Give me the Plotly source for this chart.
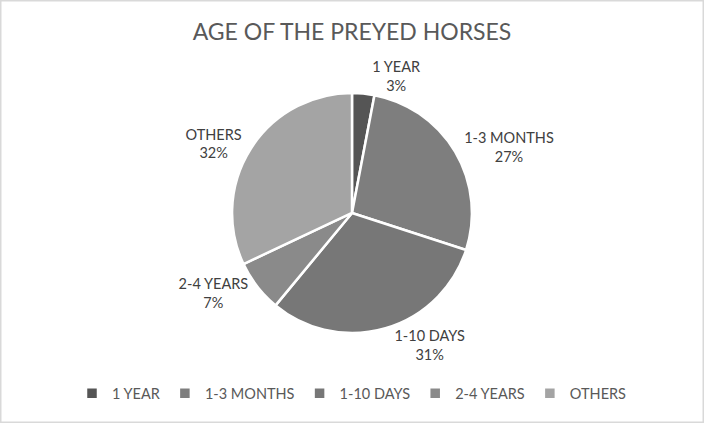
import plotly.graph_objs as go

# age groups of the preyed horses
categories = ['1 YEAR', '1-3 MONTHS', '1-10 DAYS', '2-4 YEARS', 'OTHERS']
shares = [3, 27, 31, 7, 32]
slice_colors = ['#555555', '#7e7e7e', '#777777', '#8a8a8a', '#a4a4a4']

pie = go.Pie(labels=categories,
             values=shares,
             sort=False,
             direction='clockwise',
             rotation=0,
             marker=dict(colors=slice_colors,
                         line=dict(color='white', width=2.5)),
             textposition='outside',
             texttemplate='%{label}<br>%{percent:.0%}',
             textfont=dict(family='Lato', size=14.5, color='#404040'),
             hoverinfo='label+percent',
             domain=dict(x=[0.1, 0.9], y=[0.213, 0.78]))

layout = go.Layout(title=dict(text='AGE OF THE PREYED HORSES',
                              x=0.5, xanchor='center',
                              y=0.925, yanchor='middle',
                              font=dict(family='Lato', size=23, color='#595959')),
                   width=704, height=423,
                   margin=dict(l=0, r=0, t=0, b=0, autoexpand=False),
                   paper_bgcolor='white',
                   showlegend=True,
                   legend=dict(orientation='h',
                               x=0.5, xanchor='center',
                               y=0.07, yanchor='middle',
                               font=dict(family='Lato', size=14.5, color='#595959'),
                               itemwidth=30,
                               traceorder='normal'),
                   shapes=[dict(type='rect', xref='paper', yref='paper',
                                x0=0, y0=0, x1=1, y1=1,
                                line=dict(color='#d9d9d9', width=3))])

fig = go.Figure(data=[pie], layout=layout)
fig.write_html("out.html",
               config=dict(displayModeBar=False),
               post_script="document.body.style.margin='0';")
